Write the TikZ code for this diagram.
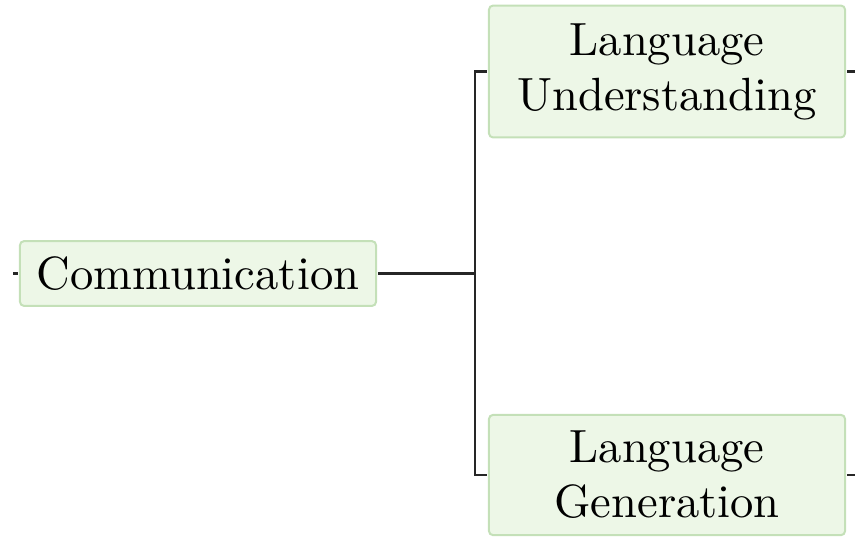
\documentclass[tikz,border=0pt]{standalone}
\definecolor{topicfill}{RGB}{237,247,231}
\definecolor{topicedge}{RGB}{196,224,184}
\begin{document}
\begin{tikzpicture}[x=0.5pt,y=-0.5pt,
  topic/.style={draw=topicedge, line width=1pt, fill=topicfill,
    scale=2.33, transform shape, rounded corners=2pt,
    align=center, inner sep=0pt,
    font=\fontsize{10}{11.8}\selectfont},
  link/.style={line width=1.3pt, draw=black!85}]
  \useasboundingbox (0,0) rectangle (855,538);
  % topics
  \node[topic, minimum width=76.4pt, minimum height=13.9pt] (comm) at (198,273.5) {Communication};
  \node[topic, minimum width=76.4pt, minimum height=28.3pt] (lu) at (667,71.5) {Language\\Understanding};
  \node[topic, minimum width=76.4pt, minimum height=25.8pt] (lg) at (667,475) {Language\\Generation};
  % free ends and junction
  \coordinate (inL) at (13,273.5);
  \coordinate (outU) at (855,71.5);
  \coordinate (outG) at (855,475);
  \coordinate (j) at (475,273.5);
  % connectors
  \draw[link] (inL) -- (comm.west);
  \draw[link] (comm.east) -- (j);
  \draw[link] (j) |- (lu.west);
  \draw[link] (j) |- (lg.west);
  \draw[link] (lu.east) -- (outU);
  \draw[link] (lg.east) -- (outG);
\end{tikzpicture}
\end{document}
